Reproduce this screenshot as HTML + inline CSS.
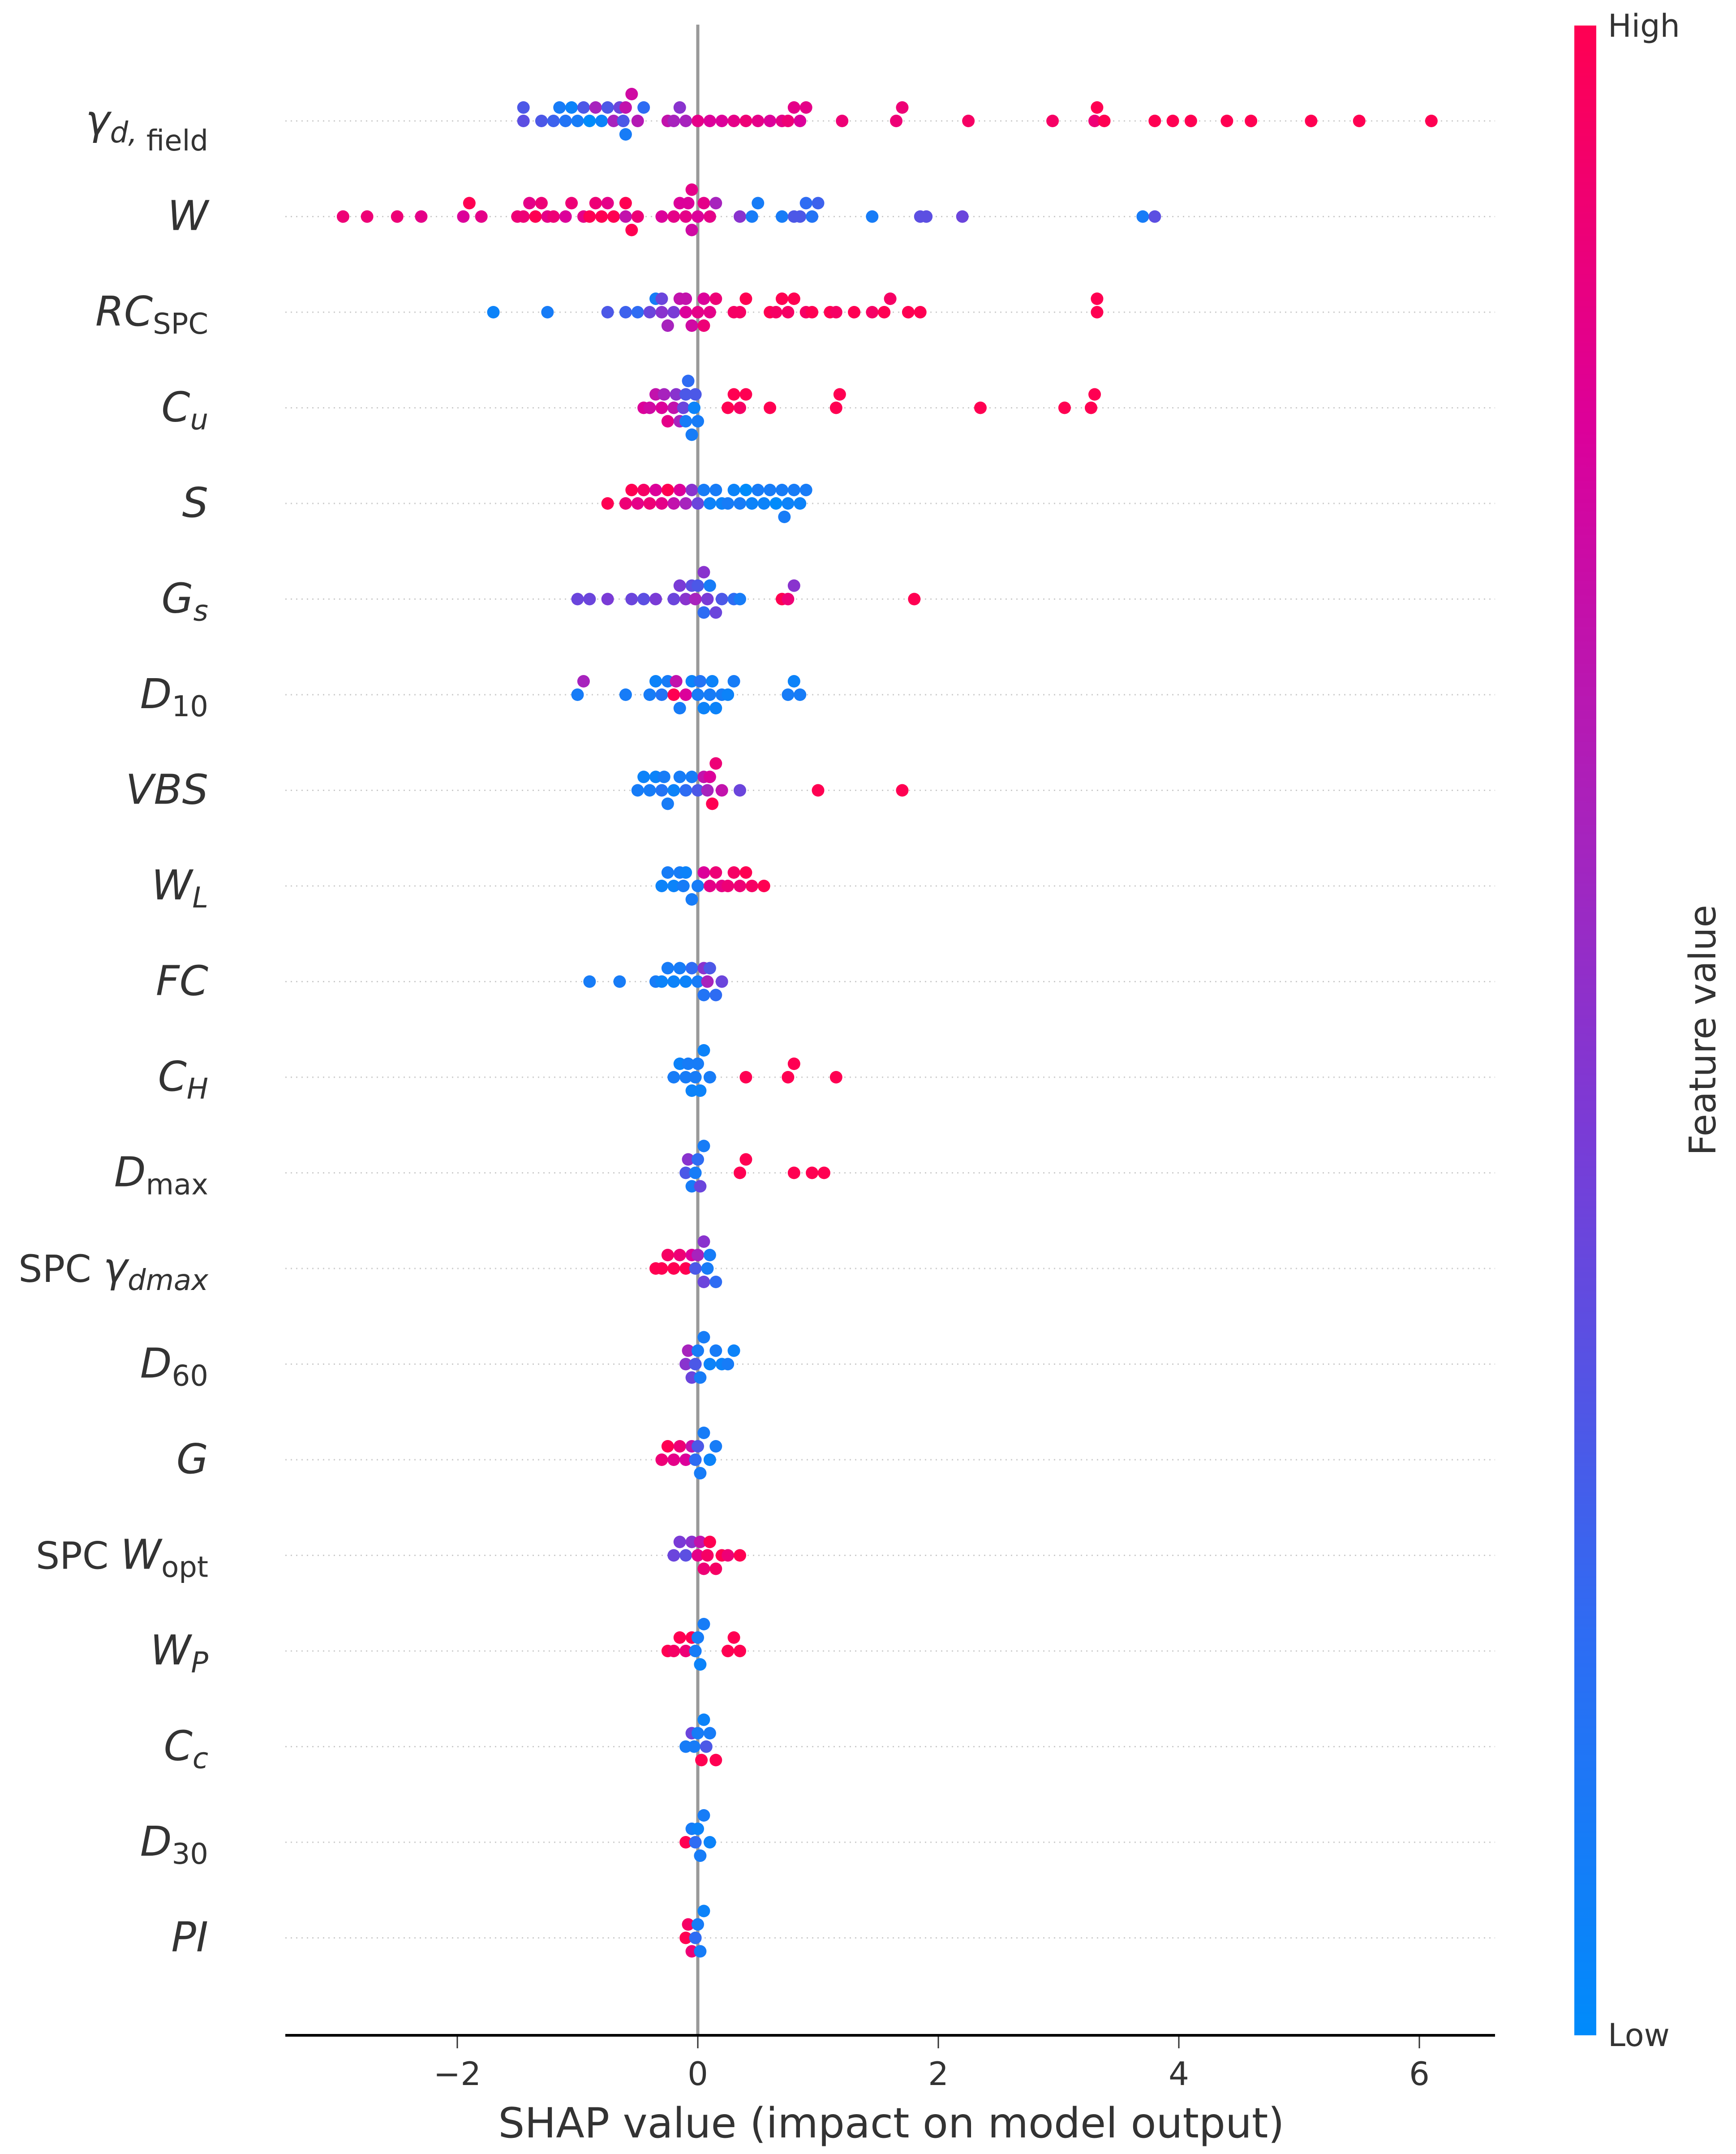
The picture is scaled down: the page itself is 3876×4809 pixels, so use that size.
<!DOCTYPE html>
<html><head><meta charset="utf-8"><style>
html,body{margin:0;padding:0;background:#fff}
svg{display:block}
text{font-family:"DejaVu Sans","Liberation Sans",sans-serif;fill:#333}
</style></head><body>
<svg id="chart" width="3876" height="4809" viewBox="0 0 3876 4809" xmlns="http://www.w3.org/2000/svg">
<defs><linearGradient id="cbg" x1="0" y1="1" x2="0" y2="0">
<stop offset="0" stop-color="#008bfb"/><stop offset="0.2" stop-color="#2e6cf3"/><stop offset="0.45" stop-color="#7a3bd6"/><stop offset="0.6" stop-color="#a723bd"/><stop offset="0.8" stop-color="#dc009a"/><stop offset="1" stop-color="#ff0052"/>
</linearGradient></defs>
<g id="grid"></g>
<line x1="1558" y1="55" x2="1558" y2="4544" stroke="#999" stroke-width="7"/>
<g id="dots"></g>
<g id="labels" font-size="92" font-style="italic" text-anchor="end"></g>
<line x1="637" y1="4544" x2="3338" y2="4544" stroke="#000" stroke-width="6"/>
<g id="ticks"></g>
<text x="1990" y="4772" font-size="93" text-anchor="middle" fill="#000">SHAP value (impact on model output)</text>
<rect x="3515" y="57" width="49" height="4487" fill="url(#cbg)"/>
<text x="3590" y="82" font-size="70">High</text>
<text x="3590" y="4568" font-size="70">Low</text>
<text x="3830" y="2300" font-size="82" text-anchor="middle" transform="rotate(-90 3830 2300)" fill="#000">Feature value</text>
</svg>
<script>
const tickValues=[-2,0,2,4,6];
const tickLabels=["\u22122","0","2","4","6"];
const features=["gd","W","RC","Cu","S","Gs","D10","VBS","WL","FC","CH","Dmax","SPCg","D60","G","SPCW","WP","Cc","D30","PI"];
// each row: [shap, featureValue(0=low,1=high)]
const rowGd=[[-1.45,.35],[-1.45,.3],[-1.3,.3],[-1.2,.25],[-1.15,.1],[-1.1,.15],[-1.05,.05],[-1,.1],[-0.95,.3],[-0.9,0],[-0.85,.6],[-0.8,.05],[-0.75,.3],[-0.7,.6],[-0.65,.4],[-0.6,.7],[-0.55,.75],[-0.5,.65],[-0.45,.2],[-0.6,.1],[-0.62,.3],[-0.2,.6],[-0.25,.7],[-0.15,.5],[-0.1,.6],[0,.85],[0.1,.8],[0.2,.8],[0.3,.85],[0.4,.9],[0.5,.85],[0.6,.8],[0.7,.85],[0.75,.9],[0.8,.85],[0.85,.8],[0.9,.85],[1.2,.9],[1.65,.9],[1.7,.9],[2.25,.95],[2.95,.95],[3.3,.9],[3.32,1],[3.38,1],[3.8,1],[3.95,1],[4.1,1],[4.4,1],[4.6,1],[5.1,1],[5.5,1],[6.1,1]];
const rowW=[[-2.95,.9],[-2.75,.9],[-2.5,.9],[-2.3,.85],[-1.95,.8],[-1.9,1],[-1.8,.85],[-1.5,.9],[-1.45,.9],[-1.4,.85],[-1.35,1],[-1.3,.9],[-1.25,.85],[-1.2,.9],[-1.1,.8],[-1.05,.9],[-0.95,.85],[-0.9,1],[-0.85,.9],[-0.8,1],[-0.75,.85],[-0.7,1],[-0.6,.7],[-0.55,1],[-0.5,.9],[-0.6,1],[-0.3,.8],[-0.2,.85],[-0.15,.8],[-0.1,.85],[-0.05,.75],[-0.08,.8],[0,.8],[0.05,.85],[-0.05,.85],[0.1,.85],[0.15,.6],[0.35,.5],[0.45,.1],[0.5,.1],[0.7,.1],[0.8,.3],[0.85,.3],[0.9,.2],[0.95,.15],[1,.25],[1.45,.1],[1.85,.35],[1.9,.35],[2.2,.4],[3.7,.1],[3.8,.35]];
const rowRC=[[-1.7,.05],[-1.25,.1],[-0.75,.3],[-0.6,.25],[-0.5,.2],[-0.4,.4],[-0.35,.1],[-0.3,.5],[-0.25,.6],[-0.2,.45],[-0.15,.7],[-0.1,.8],[-0.05,.75],[0,.85],[0.05,.8],[0.1,.85],[-0.1,.7],[-0.3,.4],[0.05,.9],[0.15,.9],[0.3,.95],[0.35,.95],[0.4,1],[0.6,1],[0.65,.95],[0.7,1],[0.75,.95],[0.8,1],[0.9,.95],[0.95,1],[1.1,1],[1.15,.95],[1.3,1],[1.45,.95],[1.55,1],[1.6,.95],[1.75,1],[1.85,1],[3.32,1],[3.32,1]];
const rowCu=[[-0.45,.8],[-0.4,.75],[-0.35,.7],[-0.3,.8],[-0.28,.6],[-0.25,.85],[-0.2,.7],[-0.18,.5],[-0.15,.6],[-0.12,.4],[-0.1,.3],[-0.08,.2],[-0.05,.1],[-0.03,.05],[0,.1],[-0.02,.3],[-0.1,.1],[0.25,1],[0.3,1],[0.35,.95],[0.4,1],[0.6,1],[1.15,1],[1.18,1],[2.35,1],[3.05,1],[3.27,1],[3.3,1]];
const rowS=[[-0.75,1],[-0.6,.9],[-0.55,1],[-0.5,.85],[-0.45,.95],[-0.4,.9],[-0.35,.8],[-0.3,.85],[-0.25,1],[-0.2,.7],[-0.15,.8],[-0.1,.6],[-0.05,.5],[0,.4],[0.05,.1],[0.1,.05],[0.15,.1],[0.2,.05],[0.25,.1],[0.3,.05],[0.35,.1],[0.4,0],[0.45,.05],[0.5,.1],[0.55,.05],[0.6,.1],[0.65,0],[0.7,.1],[0.75,.05],[0.8,.1],[0.85,.05],[0.9,.1],[0.72,.1]];
const rowGs=[[-1,.4],[-0.9,.4],[-0.75,.45],[-0.55,.4],[-0.45,.35],[-0.35,.45],[-0.2,.4],[-0.15,.45],[-0.1,.5],[-0.05,.35],[0,.3],[0.05,.2],[0.1,.1],[0.15,.4],[0.2,.3],[0.05,.5],[-0.02,.6],[0.08,.45],[0.3,.2],[0.35,.1],[0.7,1],[0.75,.9],[0.8,.5],[1.8,1]];
const rowD10=[[-1,.1],[-0.95,.6],[-0.6,.1],[-0.4,.1],[-0.35,.05],[-0.3,.15],[-0.25,.1],[-0.2,1],[-0.15,.1],[-0.1,.8],[-0.05,.05],[0,.1],[0.05,.05],[0.1,.1],[0.15,.05],[0.2,.1],[0.25,.05],[0.3,.1],[-0.18,.7],[0.02,.15],[0.12,.05],[0.75,.1],[0.8,.05],[0.85,.1]];
const rowVBS=[[-0.5,.1],[-0.45,.05],[-0.4,.1],[-0.35,.05],[-0.3,.15],[-0.25,.1],[-0.2,.05],[-0.15,.1],[-0.1,.2],[-0.05,.1],[0,.3],[0.05,.7],[0.1,.8],[0.15,.9],[0.2,.7],[0.08,.6],[0.12,1],[-0.28,.1],[0.35,.4],[1,1],[1.7,1]];
const rowWL=[[-0.3,.05],[-0.25,.1],[-0.2,.05],[-0.15,.1],[-0.1,.05],[-0.05,.1],[0,.1],[-0.12,.1],[0.05,.8],[0.1,.85],[0.15,.9],[0.2,.85],[0.25,.9],[0.3,.95],[0.35,.9],[0.4,1],[0.45,.95],[0.55,1]];
const rowFC=[[-0.9,.1],[-0.65,.1],[-0.35,.1],[-0.3,.05],[-0.25,.1],[-0.2,.05],[-0.15,.1],[-0.1,.05],[-0.05,.2],[0,.1],[0.05,.5],[0.1,.3],[0.15,.2],[0.2,.4],[0.05,.15],[0.08,.6]];
const rowCH=[[-0.2,.1],[-0.15,.05],[-0.1,.1],[-0.05,.05],[0,.1],[0.05,.05],[0.1,.1],[-0.08,.1],[0.02,.05],[-0.02,.1],[0.4,1],[0.75,1],[0.8,1],[1.15,1]];
const rowDmax=[[-0.1,.3],[-0.05,.1],[0,.2],[0.05,.1],[-0.08,.5],[-0.02,.1],[0.02,.4],[0.35,1],[0.4,1],[0.8,1],[0.95,1],[1.05,1]];
const rowSPCg=[[-0.35,1],[-0.3,1],[-0.25,.95],[-0.2,1],[-0.15,.9],[-0.1,1],[-0.05,.8],[0,.6],[0.05,.4],[0.1,.1],[0.15,.2],[0.05,.5],[-0.02,.3],[0.08,.1]];
const rowD60=[[-0.1,.5],[-0.05,.4],[0,.1],[0.05,.1],[0.1,.05],[0.15,.1],[0.2,.05],[0.25,.1],[0.3,.05],[-0.02,.3],[0.02,.1],[-0.08,.6]];
const rowG=[[-0.3,.9],[-0.25,1],[-0.2,.85],[-0.15,.9],[-0.1,.8],[-0.05,.7],[0,.3],[0.05,.1],[0.1,.05],[0.15,.1],[0.02,.1],[-0.02,.2]];
const rowSPCW=[[-0.2,.4],[-0.15,.45],[-0.1,.35],[-0.05,.5],[0,.85],[0.05,.9],[0.1,1],[0.15,.95],[0.2,1],[0.25,.9],[0.35,1],[0.02,.7],[0.08,.95]];
const rowWP=[[-0.25,1],[-0.2,.95],[-0.15,1],[-0.1,.9],[-0.05,1],[0,.1],[0.02,.05],[0.05,.1],[-0.02,.1],[0.25,1],[0.3,1],[0.35,1]];
const rowCc=[[-0.1,.1],[-0.05,.4],[0,.1],[0.05,.05],[0.1,.1],[0.15,1],[0.03,1],[-0.03,.1],[0.07,.3]];
const rowD30=[[-0.1,1],[-0.05,.1],[0,.05],[0.05,.1],[0.1,.05],[-0.02,.2],[0.02,.1]];
const rowPI=[[-0.1,1],[-0.05,.9],[0,.1],[0.05,.05],[-0.02,.2],[0.02,.1],[-0.08,.95]];
const rowsData=[rowGd,rowW,rowRC,rowCu,rowS,rowGs,rowD10,rowVBS,rowWL,rowFC,rowCH,rowDmax,rowSPCg,rowD60,rowG,rowSPCW,rowWP,rowCc,rowD30,rowPI];

const NS="http://www.w3.org/2000/svg";
const X0=1558,PXU=268.5,ROW0=270,ROWH=213.5;
const xs=v=>X0+v*PXU;
const ys=i=>ROW0+i*ROWH;
const stops=[[0,[0,139,251]],[0.2,[46,108,243]],[0.45,[122,59,214]],[0.6,[167,35,189]],[0.8,[220,0,154]],[1,[255,0,82]]];
function col(t){for(let k=1;k<stops.length;k++){if(t<=stops[k][0]){const a=stops[k-1],b=stops[k];const f=(t-a[0])/(b[0]-a[0]);const c=a[1].map((v,j)=>Math.round(v+(b[1][j]-v)*f));return `rgb(${c})`;}}return "rgb(255,0,82)";}
function mk(tag,attrs,parent){const e=document.createElementNS(NS,tag);for(const k in attrs)e.setAttribute(k,attrs[k]);parent.appendChild(e);return e;}

const grid=document.getElementById('grid'),dots=document.getElementById('dots'),ticks=document.getElementById('ticks'),labels=document.getElementById('labels');
rowsData.forEach((row,i)=>{
  const y=ys(i);
  const g=mk('line',{x1:637,x2:3338,y1:y,y2:y,stroke:'#ccc','stroke-width':3,'stroke-dasharray':'3 9'},grid);
  
  
  const bins={};
  const sorted=row.slice().sort((a,b)=>a[0]-b[0]);
  sorted.forEach(p=>{
    const b=Math.round(xs(p[0])/26);
    const k=bins[b]||0;bins[b]=k+1;
    let off=((k+1)>>1)*(k%2?-1:1)*30;
    off=Math.max(-100,Math.min(100,off));
    const c=mk('circle',{cx:xs(p[0]),cy:y+off,r:14,fill:col(p[1])},dots);
    
    
  });
});
tickValues.forEach((v,i)=>{
  const l=mk('line',{x1:xs(v),x2:xs(v),y1:4547,y2:4573,stroke:'#333','stroke-width':3},ticks);
  
  
  const t=mk('text',{x:xs(v),y:4655,'font-size':72,'text-anchor':'middle'},ticks);
  t.textContent=tickLabels[i];
  
  
});
const labelParts=[
 [["γ",""],["d, ","sub"],["field","subup"]],[["W",""]],[["RC",""],["SPC","subup"]],[["C",""],["u","sub"]],[["S",""]],[["G",""],["s","sub"]],[["D",""],["10","subup"]],[["VBS",""]],[["W",""],["L","sub"]],[["FC",""]],[["C",""],["H","sub"]],[["D",""],["max","subup"]],[["SPC ","up"],["γ",""],["dmax","sub"]],[["D",""],["60","subup"]],[["G",""]],[["SPC ","up"],["W",""],["opt","subup"]],[["W",""],["P","sub"]],[["C",""],["c","sub"]],[["D",""],["30","subup"]],[["PI",""]]];
labelParts.forEach((parts,i)=>{
  const t=mk('text',{x:465,y:ys(i)+30},labels);
  
  
  parts.forEach(([s,k])=>{
    const sp=mk('tspan',{},t);
    sp.textContent=s;
    if(k==='sub'||k==='subup'){sp.setAttribute('font-size','64');sp.setAttribute('dy','18');}
    if(k==='subup'||k==='up')sp.setAttribute('font-style','normal');
    if(k==='up')sp.setAttribute('font-size','84');
  });
});
</script>
</body></html>
